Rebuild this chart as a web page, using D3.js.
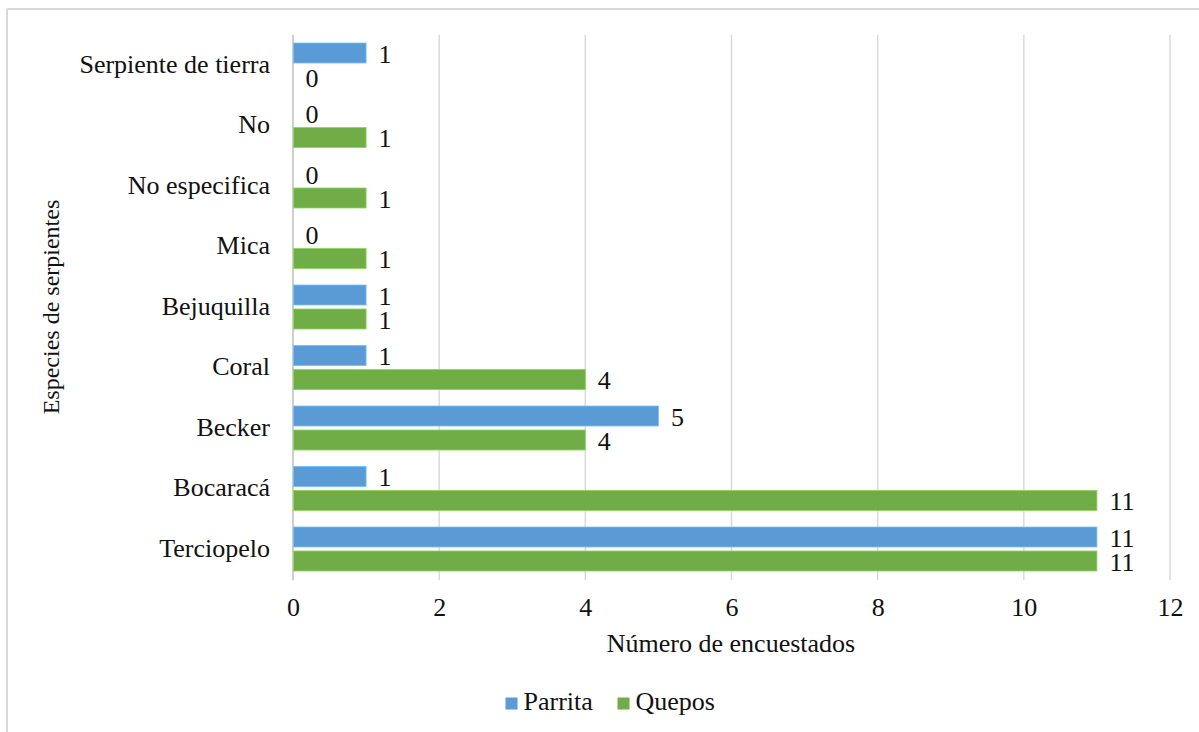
<!DOCTYPE html>
<html>
<head>
<meta charset="utf-8">
<script src="https://cdn.jsdelivr.net/npm/d3@7"></script>
<style>
  html, body { margin: 0; padding: 0; background: #fff; }
  svg { display: block; }
  svg text { font-family: 'Liberation Serif', 'DejaVu Serif', 'Times New Roman', Times, serif !important; fill: #111; }
</style>
</head>
<body>
<svg id="chart" width="1199" height="732"></svg>
<script>
// ---- data ----
const categories = ["Serpiente de tierra", "No", "No especifica", "Mica", "Bejuquilla", "Coral", "Becker", "Bocaracá", "Terciopelo"];
const seriesNames = ["Parrita", "Quepos"];
const parrita = [1, 0, 0, 0, 1, 1, 5, 1, 11];
const quepos  = [0, 1, 1, 1, 1, 4, 4, 11, 11];
const xTicks = [0, 2, 4, 6, 8, 10, 12];
const xTitle = "Número de encuestados";
const yTitle = "Especies de serpientes";
const colors = ["#5B9BD5", "#70AD47"];

const seriesValues = [parrita, quepos];

const svg = d3.select("#chart");
const pLeft = 293, pRight = 1170, pTop = 34.75, pBottom = 579.25;
const FS = "26px";

// frame (top and left edges visible)
svg.append("line").attr("x1", 7).attr("x2", 1199).attr("y1", 9).attr("y2", 9)
  .attr("stroke", "#d9d9d9").attr("stroke-width", 2);
svg.append("line").attr("x1", 7).attr("x2", 7).attr("y1", 9).attr("y2", 732)
  .attr("stroke", "#d9d9d9").attr("stroke-width", 2);

const x = d3.scaleLinear().domain([0, 12]).range([pLeft, pRight]);
const y = d3.scaleBand().domain(categories).range([pTop, pBottom])
  .paddingInner(0.273).paddingOuter(0.1365);
const ySub = d3.scaleBand().domain(seriesNames).range([0, y.bandwidth()])
  .paddingInner(0.1667).paddingOuter(0);

// gridlines
svg.append("g").selectAll("line").data(xTicks.filter(d => d > 0)).join("line")
  .attr("x1", d => x(d)).attr("x2", d => x(d))
  .attr("y1", pTop).attr("y2", pBottom + 1)
  .attr("stroke", "#d9d9d9").attr("stroke-width", 1.5);

// y axis line
svg.append("line").attr("x1", x(0)).attr("x2", x(0)).attr("y1", pTop).attr("y2", pBottom + 1)
  .attr("stroke", "#bfbfbf").attr("stroke-width", 1.5);

// x axis tick labels via d3 axis
const xAxis = d3.axisBottom(x).tickValues(xTicks).tickSize(0).tickPadding(0).tickFormat(d3.format("d"));
const gx = svg.append("g").attr("transform", `translate(0, ${pBottom})`).call(xAxis)
  .attr("font-family", null).attr("font-size", null);
gx.select(".domain").remove();
gx.selectAll("text").attr("y", 36.5).attr("dy", "0").style("font-size", FS);

// y axis category labels via d3 axis
const yAxis = d3.axisLeft(y).tickSize(0).tickPadding(23);
const gy = svg.append("g").attr("transform", `translate(${pLeft}, 0)`).call(yAxis)
  .attr("font-family", null).attr("font-size", null);
gy.select(".domain").remove();
gy.selectAll("text").attr("dy", "0.3em").style("font-size", FS);

// bars
const rows = [];
categories.forEach((c, i) => {
  seriesNames.forEach((s, j) => rows.push({ cat: c, series: s, value: seriesValues[j][i], color: colors[j] }));
});

const bars = svg.append("g");
bars.selectAll("rect").data(rows).join("rect")
  .attr("x", x(0) + 0.5)
  .attr("y", d => y(d.cat) + ySub(d.series))
  .attr("width", d => Math.max(0, x(d.value) - x(0) - 0.5))
  .attr("height", ySub.bandwidth())
  .attr("fill", d => d.color)
  .attr("stroke", d => d.value > 0 ? d3.color(d.color).brighter(0.6) : "none")
  .attr("stroke-width", 0.8);

// value labels
svg.append("g").selectAll("text").data(rows).join("text")
  .attr("x", d => x(d.value) + 12.5)
  .attr("y", d => y(d.cat) + ySub(d.series) + ySub.bandwidth() / 2)
  .attr("dy", "0.37em")
  .style("font-size", FS)
  .text(d => d.value);

// axis titles
svg.append("text").attr("x", 731).attr("y", 652)
  .attr("text-anchor", "middle").style("font-size", FS).text(xTitle);
svg.append("text").attr("transform", `translate(59, ${(pTop + pBottom) / 2}) rotate(-90)`)
  .attr("text-anchor", "middle").style("font-size", "24px").text(yTitle);

// legend
const legendX = [505.5, 617.5];
const lg = svg.append("g");
seriesNames.forEach((s, i) => {
  lg.append("rect").attr("x", legendX[i]).attr("y", 697.5).attr("width", 12).attr("height", 12).attr("fill", colors[i]);
  lg.append("text").attr("x", legendX[i] + 18).attr("y", 710)
    .style("font-size", FS).text(s);
});
</script>
</body>
</html>
